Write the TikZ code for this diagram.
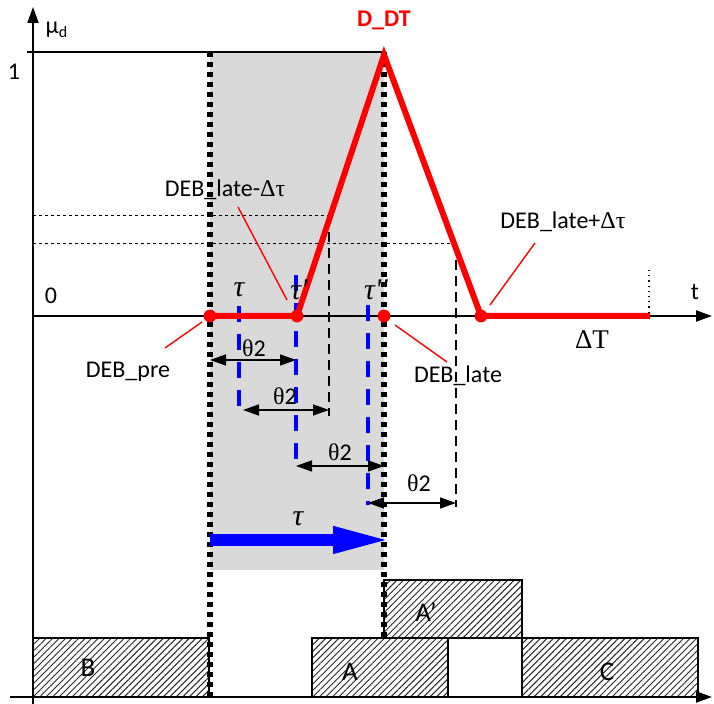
\documentclass[tikz,border=0pt]{standalone}
\usepackage{fontspec}
\setmainfont{Carlito}
\newfontfamily\serf{Liberation Serif}
\usetikzlibrary{arrows.meta,patterns.meta}
\definecolor{shadeg}{HTML}{D9D9D9}
\definecolor{taublue}{HTML}{0000FF}
\tikzset{
  axisline/.style={line width=1pt, -{Triangle[length=8pt,width=5.5pt]}},
  redline/.style={red, line width=3pt},
  reddot/.style={red},
  winline/.style={line width=2.8pt, dash pattern=on 2.6pt off 2.4pt},
  levelline/.style={line width=0.5pt, dash pattern=on 1.5pt off 1.5pt},
  dropline/.style={line width=1pt, dash pattern=on 5pt off 3pt},
  shiftline/.style={taublue, line width=1.6pt, dash pattern=on 8pt off 6pt},
  spanarrow/.style={line width=0.8pt, {Triangle[length=8pt,width=5.5pt]}-{Triangle[length=8pt,width=5.5pt]}},
  callout/.style={red, line width=0.7pt},
  task/.style={draw, line width=0.8pt, pattern={Lines[angle=45,distance=2.3pt,line width=0.5pt]}, pattern color=black!85},
  lbl/.style={inner sep=1pt},
  tlbl/.style={inner sep=1pt, font=\fontsize{15}{17}\selectfont\serf\itshape},
}

\begin{document}
\begin{tikzpicture}[x=0.5pt, y=-0.5pt, every node/.style={font=\fontsize{12}{14}\selectfont}]
  \useasboundingbox (0,0) rectangle (714,704);
  % shaded window
  \fill[shadeg] (210,52) rectangle (384,570);
  % tasks
  \draw[task] (33,638) rectangle (209,697);
  \draw[task] (312,638) rectangle (448,697);
  \draw[line width=0.8pt, fill=white] (448,638) rectangle (522,697);
  \draw[task] (522,638) rectangle (698,697);
  \draw[task] (384,580) rectangle (522,638);
  \node[lbl] (B) at (88,668) {\fontsize{13.5}{15}\selectfont B};
  \node[lbl] (A) at (350,672) {\fontsize{13.5}{15}\selectfont A};
  \node[lbl] (A2) at (426,612) {\fontsize{13.5}{15}\selectfont A'};
  \node[lbl] (C) at (607,672) {\fontsize{13.5}{15}\selectfont C};
  % axes
  \draw[axisline] (33,704) -- (33,7);
  \draw[axisline] (33,316) -- (712,316);
  \draw[axisline] (10,697) -- (712,697);
  \draw[line width=1pt] (27,52) -- (384,52);
  \node[lbl] (mu) at (57,30) {µ\textsubscript{d}};
  \node[lbl] (one) at (14,72) {1};
  \node[lbl] (zero) at (51,296) {0};
  \node[lbl] (t) at (695,292) {t};
  % guide lines
  \draw[levelline] (33,216) -- (330,216);
  \draw[levelline] (33,244) -- (456,244);
  \draw[line width=0.6pt, dotted] (649,270) -- (649,316);
  \draw[dropline] (329,216) -- (329,416);
  \draw[dropline] (456,244) -- (456,507);
  \draw[shiftline] (239,306) -- (239,410);
  \draw[shiftline] (296,275) -- (296,470);
  \draw[shiftline] (368,305) -- (368,505);
  % window borders
  \draw[winline] (210,52) -- (210,697);
  \draw[winline] (384,52) -- (384,638);
  % membership function
  \coordinate (pre) at (210,316);
  \coordinate (tp) at (297,316);
  \coordinate (peak) at (384,55);
  \coordinate (late) at (384,316);
  \coordinate (post) at (481,316);
  \coordinate (endT) at (650,316);
  \draw[redline] (pre) -- (tp) -- (peak) -- (post) -- (endT);
  \foreach \p in {pre,tp,late,post}
    \fill[reddot] (\p) circle (3.2pt);
  % theta spans
  \draw[spanarrow] (210,360) -- (296,360);
  \draw[spanarrow] (243,410) -- (329,410);
  \draw[spanarrow] (296,466) -- (384,466);
  \draw[spanarrow] (368,503) -- (456,503);
  \node[lbl] (th1) at (254,348) {{\serf θ}2};
  \node[lbl] (th2) at (285,396) {{\serf θ}2};
  \node[lbl] (th3) at (340,452) {{\serf θ}2};
  \node[lbl] (th4) at (419,483) {{\serf θ}2};
  % tau marks
  \node[tlbl] (tau1) at (239,290) {τ};
  \node[tlbl] (tau2) at (299,290) {τ'};
  \node[tlbl] (tau3) at (376,290) {τ''};
  \coordinate (tauA) at (210,540);
  \coordinate (tauB) at (393,540);
  \draw[taublue, line width=6pt, -{Triangle[length=30pt,width=12pt]}] (tauA) -- (tauB);
  \node[tlbl] (tau) at (298,519) {τ};
  % labels
  \node[lbl, text=red, font=\fontsize{12}{14}\selectfont\bfseries] (ddt) at (384,20) {D\_DT};
  \node[lbl] (lminus) at (225,190) {DEB\_late-{\serf Δτ}};
  \node[lbl] (lplus) at (563,222) {DEB\_late+{\serf Δτ}};
  \node[lbl] (lpre) at (128,372) {DEB\_pre};
  \node[lbl] (llate) at (458,376) {DEB\_late};
  \node[lbl] (dT) at (592,340) {\fontsize{13.5}{15}\selectfont\serf ΔT};
  \coordinate (c1a) at (238,207);
  \coordinate (c1b) at (287,300);
  \coordinate (c2a) at (535,243);
  \coordinate (c2b) at (490,305);
  \coordinate (c3a) at (202,322);
  \coordinate (c3b) at (165,348);
  \coordinate (c4a) at (395,325);
  \coordinate (c4b) at (447,362);
  \draw[callout] (c1a) -- (c1b);
  \draw[callout] (c2a) -- (c2b);
  \draw[callout] (c3a) -- (c3b);
  \draw[callout] (c4a) -- (c4b);
\end{tikzpicture}
\end{document}
